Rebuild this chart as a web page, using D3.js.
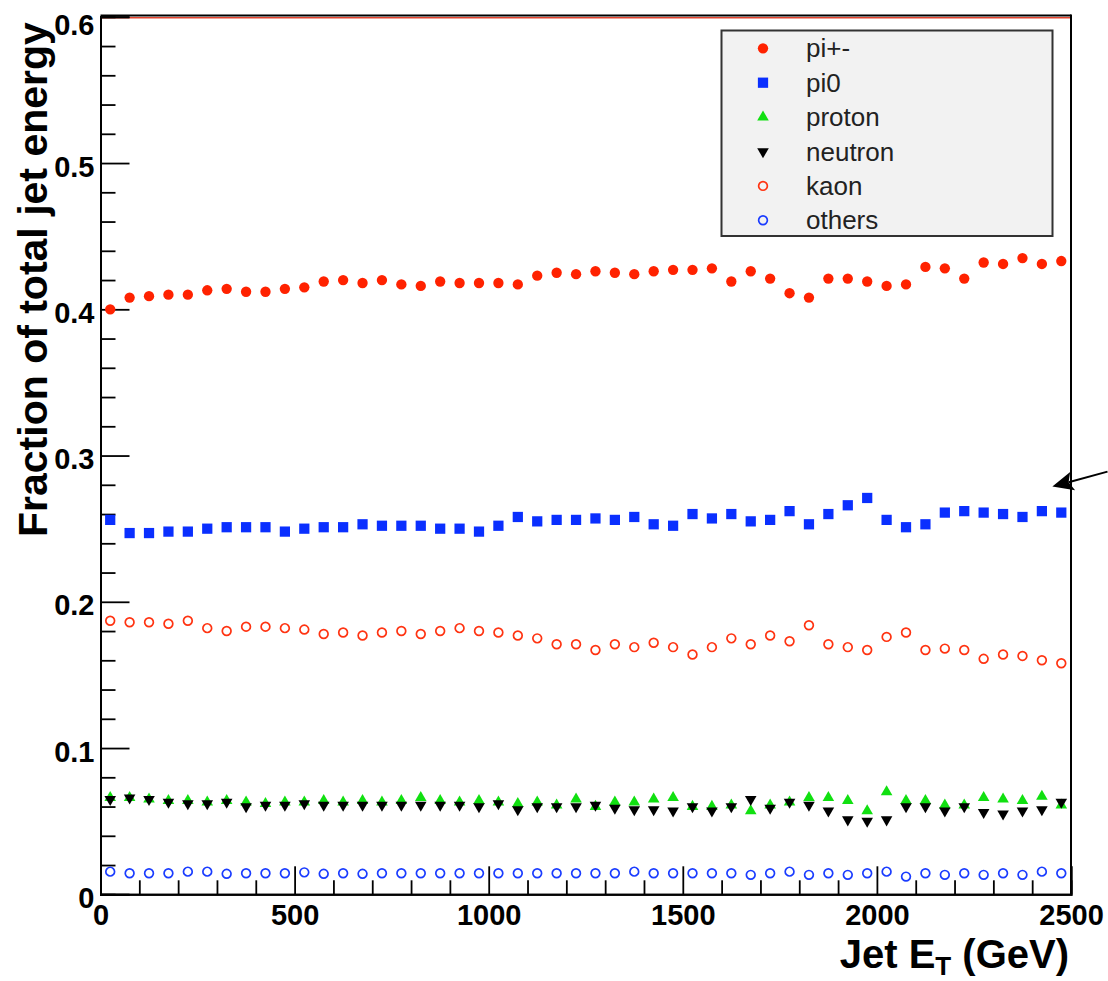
<!DOCTYPE html>
<html>
<head>
<meta charset="utf-8">
<script src="https://cdn.jsdelivr.net/npm/d3@7"></script>
<style>
  html, body { margin: 0; padding: 0; background: #fff; }
  svg { display: block; font-family: "Liberation Sans", Arial, Helvetica, sans-serif; }
</style>
</head>
<body>
<svg id="chart" width="1108" height="981"></svg>
<script>
// ---------------- DATA ----------------
const jetET = [25, 75, 125, 175, 225, 275, 325, 375, 425, 475,
  525, 575, 625, 675, 725, 775, 825, 875, 925, 975,
  1025, 1075, 1125, 1175, 1225, 1275, 1325, 1375, 1425, 1475,
  1525, 1575, 1625, 1675, 1725, 1775, 1825, 1875, 1925, 1975,
  2025, 2075, 2125, 2175, 2225, 2275, 2325, 2375, 2425, 2475];

const piCharged = [0.400, 0.408, 0.409, 0.410, 0.410, 0.413, 0.414, 0.412, 0.412, 0.414,
  0.415, 0.419, 0.420, 0.418, 0.420, 0.417, 0.416, 0.419, 0.418, 0.418,
  0.418, 0.417, 0.423, 0.425, 0.424, 0.426, 0.425, 0.424, 0.426, 0.427,
  0.427, 0.428, 0.419, 0.426, 0.421, 0.411, 0.408, 0.421, 0.421, 0.419,
  0.416, 0.417, 0.429, 0.428, 0.421, 0.432, 0.431, 0.435, 0.431, 0.433];

const piZero = [0.256, 0.247, 0.247, 0.248, 0.248, 0.250, 0.251, 0.251, 0.251, 0.248,
  0.250, 0.251, 0.251, 0.253, 0.252, 0.252, 0.252, 0.250, 0.250, 0.248,
  0.252, 0.258, 0.255, 0.256, 0.256, 0.257, 0.256, 0.258, 0.253, 0.252,
  0.260, 0.257, 0.260, 0.255, 0.256, 0.262, 0.253, 0.260, 0.266, 0.271,
  0.256, 0.251, 0.253, 0.261, 0.262, 0.261, 0.260, 0.258, 0.262, 0.261];

const proton = [0.066, 0.066, 0.065, 0.064, 0.064, 0.063, 0.064, 0.063, 0.062, 0.063,
  0.063, 0.064, 0.063, 0.064, 0.063, 0.064, 0.066, 0.064, 0.063, 0.064,
  0.063, 0.062, 0.063, 0.061, 0.065, 0.060, 0.063, 0.063, 0.065, 0.066,
  0.060, 0.060, 0.061, 0.057, 0.061, 0.063, 0.066, 0.066, 0.064, 0.057,
  0.070, 0.064, 0.064, 0.061, 0.061, 0.066, 0.065, 0.064, 0.067, 0.061];

const neutron = [0.065, 0.066, 0.065, 0.063, 0.062, 0.062, 0.063, 0.060, 0.061, 0.061,
  0.062, 0.061, 0.061, 0.061, 0.061, 0.061, 0.061, 0.061, 0.061, 0.060,
  0.062, 0.058, 0.060, 0.060, 0.060, 0.061, 0.059, 0.058, 0.058, 0.057,
  0.060, 0.057, 0.060, 0.065, 0.059, 0.063, 0.061, 0.057, 0.051, 0.050,
  0.051, 0.060, 0.060, 0.057, 0.060, 0.056, 0.055, 0.057, 0.058, 0.063];

const kaon = [0.187, 0.186, 0.186, 0.185, 0.187, 0.182, 0.180, 0.183, 0.183, 0.182,
  0.181, 0.178, 0.179, 0.177, 0.179, 0.180, 0.178, 0.180, 0.182, 0.180,
  0.179, 0.177, 0.175, 0.171, 0.171, 0.167, 0.171, 0.169, 0.172, 0.169,
  0.164, 0.169, 0.175, 0.171, 0.177, 0.173, 0.184, 0.171, 0.169, 0.167,
  0.176, 0.179, 0.167, 0.168, 0.167, 0.161, 0.164, 0.163, 0.160, 0.158];

const others = [0.0155, 0.0144, 0.0144, 0.0144, 0.0155, 0.0155, 0.0140, 0.0144, 0.0144, 0.0144,
  0.0150, 0.0140, 0.0144, 0.0140, 0.0144, 0.0144, 0.0144, 0.0144, 0.0144, 0.0144,
  0.0144, 0.0144, 0.0144, 0.0144, 0.0144, 0.0144, 0.0144, 0.0155, 0.0144, 0.0144,
  0.0144, 0.0144, 0.0144, 0.0133, 0.0144, 0.0155, 0.0133, 0.0144, 0.0133, 0.0144,
  0.0155, 0.0121, 0.0144, 0.0133, 0.0144, 0.0133, 0.0144, 0.0133, 0.0155, 0.0144];

const seriesNames = ["pi+-", "pi0", "proton", "neutron", "kaon", "others"];
const xTickValues = [0, 500, 1000, 1500, 2000, 2500];
const yTickValues = [0, 0.1, 0.2, 0.3, 0.4, 0.5, 0.6];
const xTitle = "Jet E";
const xTitleSub = "T";
const xTitleUnit = " (GeV)";
const yTitle = "Fraction of total jet energy";
// annotation arrow (data units): tail -> tip
const arrowTail = [2594, 0.2890];
const arrowTip = [2452, 0.2788];

// ---------------- STYLE / LAYOUT ----------------
const svg = d3.select("#chart");
const x = d3.scaleLinear().domain([0, 2500]).range([100.5, 1071]);
const y = d3.scaleLinear().domain([0, 0.6]).range([894.3, 16.8]);

const styles = {
  "pi+-":   { data: piCharged, type: d3.symbolCircle,   size: 84,  fill: "#ff2200", stroke: "none" },
  "pi0":    { data: piZero,    type: d3.symbolSquare,   size: 105, fill: "#0a2fff", stroke: "none" },
  "proton": { data: proton,    type: d3.symbolTriangle, size: 58,  fill: "#11e011", stroke: "none" },
  "neutron":{ data: neutron,   type: d3.symbolTriangle, size: 58,  fill: "#000000", stroke: "none", rot: 180 },
  "kaon":   { data: kaon,      type: d3.symbolCircle,   size: 60,  fill: "none", stroke: "#ff3311" },
  "others": { data: others,    type: d3.symbolCircle,   size: 60,  fill: "none", stroke: "#1a3cff" }
};

// frame: top (black + red line) and right
svg.append("line").attr("x1", x(0)).attr("x2", x(2500)).attr("y1", y(0.6) - 1.3).attr("y2", y(0.6) - 1.3)
  .attr("stroke", "#000").attr("stroke-width", 2);
svg.append("line").attr("x1", x(0)).attr("x2", x(2500)).attr("y1", y(0.6) + 1).attr("y2", y(0.6) + 1)
  .attr("stroke", "#e2442e").attr("stroke-width", 1.6);
svg.append("line").attr("x1", x(2500)).attr("x2", x(2500)).attr("y1", y(0.6) - 2.3).attr("y2", y(0))
  .attr("stroke", "#000").attr("stroke-width", 2);

// axes
const minorX = d3.range(0, 2501, 100).filter(v => v % 500 !== 0);
const minorY = d3.range(0, 31).map(i => i * 0.02).filter(v => Math.abs(v * 10 - Math.round(v * 10)) > 1e-6);

const gx = svg.append("g").attr("transform", `translate(0,${y(0)})`);
gx.append("g").call(d3.axisBottom(x).tickValues(minorX).tickSize(-14).tickFormat(""));
gx.append("g").call(d3.axisBottom(x).tickValues(xTickValues).tickSize(-28).tickPadding(10).tickFormat(d3.format("d")));
gx.selectAll(".domain").attr("stroke", "#000").attr("stroke-width", 2);
gx.selectAll(".tick line").attr("stroke", "#000").attr("stroke-width", 1.8);
gx.selectAll(".tick text").attr("font-size", 29).attr("font-weight", "bold").attr("fill", "#000")
  .attr("font-family", "Liberation Sans, Arial, sans-serif");

const gy = svg.append("g").attr("transform", `translate(${x(0)},0)`);
gy.append("g").call(d3.axisLeft(y).tickValues(minorY).tickSize(-15).tickFormat(""));
gy.append("g").call(d3.axisLeft(y).tickValues(yTickValues).tickSize(-29).tickPadding(6)
  .tickFormat(d => d === 0 ? "0" : d3.format(".1f")(d)));
gy.selectAll(".domain").attr("stroke", "#000").attr("stroke-width", 2);
gy.selectAll(".tick line").attr("stroke", "#000").attr("stroke-width", 1.8);
gy.selectAll(".tick text").attr("font-size", 29).attr("font-weight", "bold").attr("fill", "#000")
  .attr("dy", d => d === 0.6 ? "0.6em" : "0.45em").attr("font-family", "Liberation Sans, Arial, sans-serif");

// data markers
const drawOrder = ["pi+-", "pi0", "proton", "neutron", "kaon", "others"];
drawOrder.forEach(name => {
  const s = styles[name];
  const sym = d3.symbol().type(s.type).size(s.size);
  svg.append("g").selectAll("path")
    .data(jetET.map((e, i) => ({ e, v: s.data[i] })))
    .join("path")
    .attr("d", sym)
    .attr("transform", d => `translate(${x(d.e)},${y(d.v)})` + (s.rot ? ` rotate(${s.rot})` : ""))
    .attr("fill", s.fill)
    .attr("stroke", s.stroke)
    .attr("stroke-width", s.stroke === "none" ? 0 : 1.7);
});

// legend
const lg = svg.append("g");
lg.append("rect").attr("x", 721.5).attr("y", 30.5).attr("width", 331).attr("height", 205.5)
  .attr("fill", "#f2f2f2").attr("stroke", "#333").attr("stroke-width", 2);
seriesNames.forEach((name, k) => {
  const s = styles[name];
  const ry = 48.3 + k * 34.4;
  lg.append("path").attr("d", d3.symbol().type(s.type).size(s.size)())
    .attr("transform", `translate(763,${ry})` + (s.rot ? ` rotate(${s.rot})` : ""))
    .attr("fill", s.fill).attr("stroke", s.stroke).attr("stroke-width", s.stroke === "none" ? 0 : 1.7);
  lg.append("text").attr("x", 806).attr("y", ry).attr("dy", "0.35em")
    .attr("font-size", 26).attr("fill", "#222").text(name);
});

// axis titles
const xt = svg.append("text").attr("x", 1069).attr("y", 968).attr("text-anchor", "end")
  .attr("font-size", 40).attr("font-weight", "bold").attr("fill", "#000");
xt.append("tspan").text(xTitle);
xt.append("tspan").attr("font-size", 26).attr("dy", 7).text(xTitleSub);
xt.append("tspan").attr("dy", -7).text(xTitleUnit);

svg.append("text").attr("transform", "translate(46.5,537) rotate(-90)")
  .attr("text-anchor", "start").attr("font-size", 41).attr("font-weight", "bold").attr("fill", "#000")
  .text(yTitle);

// annotation arrow
const tail = [x(arrowTail[0]), y(arrowTail[1])];
const tip = [x(arrowTip[0]), y(arrowTip[1])];
const dx = tip[0] - tail[0], dy = tip[1] - tail[1];
const len = Math.hypot(dx, dy);
const ux = dx / len, uy = dy / len;
const headL = 21, headW = 9.5;
const base = [tip[0] - ux * headL, tip[1] - uy * headL];
const notch = [tip[0] - ux * headL * 0.8, tip[1] - uy * headL * 0.8];
svg.append("line").attr("x1", tail[0]).attr("y1", tail[1]).attr("x2", notch[0]).attr("y2", notch[1])
  .attr("stroke", "#000").attr("stroke-width", 2);
svg.append("path").attr("d", d3.line()([
  tip,
  [base[0] - uy * headW, base[1] + ux * headW],
  notch,
  [base[0] + uy * headW, base[1] - ux * headW]
]) + "Z").attr("fill", "#000");
</script>
</body>
</html>
